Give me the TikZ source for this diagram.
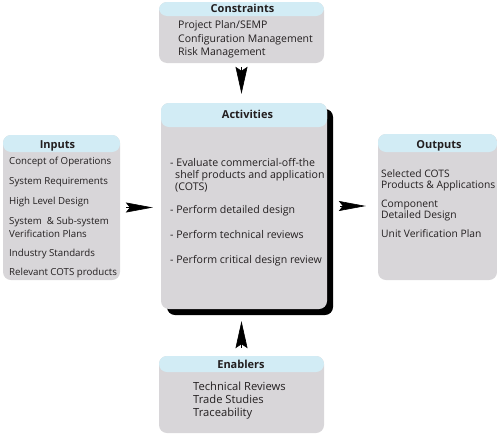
\documentclass[tikz,border=0pt]{standalone}
\usepackage{fontspec}
\setmainfont{Open Sans}
\usetikzlibrary{arrows.meta,shadows}
\definecolor{boxgray}{RGB}{216,214,217}
\definecolor{hdrblue}{RGB}{210,236,245}
\definecolor{ink}{RGB}{35,31,32}
\tikzset{
  panel/.style={rectangle, rounded corners=8pt, fill=boxgray, inner sep=0pt,
    path picture={\fill[hdrblue] (path picture bounding box.north west) rectangle ([yshift=-#1]path picture bounding box.north east);}},
  txt/.style={anchor=base west, inner sep=0pt, text=ink, font=\fontsize{#1}{12}\selectfont},
  hdr/.style={anchor=base, inner sep=0pt, text=ink, font=\fontsize{11}{12}\selectfont\bfseries},
  varr/.style={-{Stealth[length=27pt,width=12pt,inset=4pt]}, line width=0.6pt, draw=black, fill=black},
  harr/.style={-{Stealth[length=27pt,width=10pt,inset=4pt]}, line width=0.6pt, draw=black, fill=black},
}
\begin{document}
\begin{tikzpicture}[x=1pt,y=-1pt]
\useasboundingbox (0,0) rectangle (497,434);
% boxes
\node[panel=14pt, minimum width=165pt, minimum height=61pt] (cons) at (241.5,32.5) {};
\node[panel=24pt, minimum width=166pt, minimum height=206pt,
      drop shadow={shadow xshift=6pt, shadow yshift=-6pt, fill=black, opacity=1}] (act) at (244,206) {};
\node[panel=17pt, minimum width=117pt, minimum height=145pt] (inp) at (61.5,207.5) {};
\node[panel=18pt, minimum width=119pt, minimum height=146pt] (outp) at (437.5,207) {};
\node[panel=16pt, minimum width=165pt, minimum height=77pt] (enab) at (241.5,394.5) {};
% headers
\node[hdr] (consh) at (242.5,12) {Constraints};
\node[hdr] (acth) at (247.5,118) {Activities};
\node[hdr] (inph) at (57.5,148) {Inputs};
\node[hdr] (outph) at (439,148) {Outputs};
\node[hdr] (enabh) at (241,368) {Enablers};
% constraints
\node[txt=10.5] (c1) at (178,28) {Project Plan/SEMP};
\node[txt=10.5] (c2) at (178,42) {Configuration Management};
\node[txt=10.5] (c3) at (178,55) {Risk Management};
% activities
\node[txt=10.6] (a1) at (170,166) {- Evaluate commercial-off-the};
\node[txt=10.6] (a2) at (175,178) {shelf products and application};
\node[txt=10.6] (a3) at (175,190) {(COTS)};
\node[txt=10.6] (a4) at (170,213) {- Perform detailed design};
\node[txt=10.6] (a5) at (170,238) {- Perform technical reviews};
\node[txt=10.6] (a6) at (170,263) {- Perform critical design review};
% inputs
\node[txt=9.7] (i1) at (9,164) {Concept of Operations};
\node[txt=9.7] (i2) at (9,184) {System Requirements};
\node[txt=9.7] (i3) at (9,204) {High Level Design};
\node[txt=9.7] (i4) at (9,224) {System \ \& Sub-system};
\node[txt=9.7] (i5) at (9,237) {Verification Plans};
\node[txt=9.7] (i6) at (9,256) {Industry Standards};
\node[txt=9.7] (i7) at (9,275) {Relevant COTS products};
% outputs
\node[txt=10.3] (o1) at (381,177) {Selected COTS};
\node[txt=10.3] (o2) at (381,188) {Products \& Applications};
\node[txt=10.3] (o3) at (381,207) {Component};
\node[txt=10.3] (o4) at (381,218) {Detailed Design};
\node[txt=10.3] (o5) at (381,237) {Unit Verification Plan};
% enablers
\node[txt=11.2] (e1) at (193,390) {Technical Reviews};
\node[txt=11.2] (e2) at (193,403) {Trade Studies};
\node[txt=11.2] (e3) at (193,416) {Traceability};
% arrows
\draw[varr, shorten <=4pt, shorten >=9pt] (cons.south) -- (cons.south |- act.north);
\draw[varr, shorten <=8pt, shorten >=12pt] (enab.north) -- (enab.north |- act.south);
\draw[harr, shorten <=6pt, shorten >=8pt] (inp.east) -- (inp.east -| act.west);
\draw[harr, shorten <=13pt, shorten >=12pt] (act.east) -- (act.east -| outp.west);
\end{tikzpicture}
\end{document}
